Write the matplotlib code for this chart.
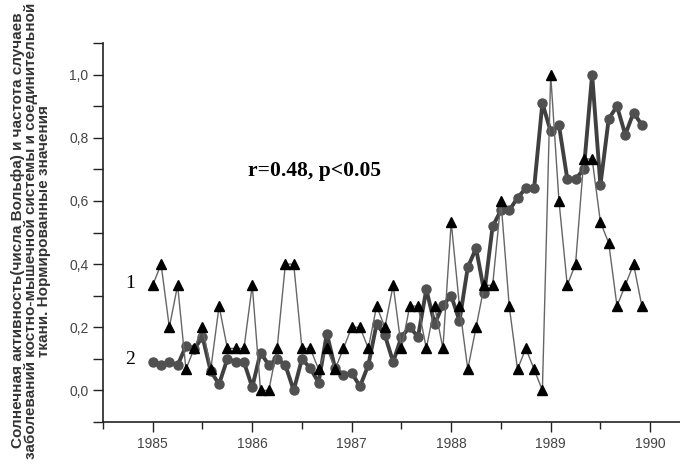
import numpy as np
import matplotlib
matplotlib.use("Agg")
import matplotlib.pyplot as plt
from matplotlib.ticker import MultipleLocator, FuncFormatter

# monthly values, Jan 1985 .. Dec 1989 (normalized)
start_year = 1985
# 1 - incidence of musculoskeletal / connective tissue diseases
incidence = [
    0.333, 0.400, 0.200, 0.333, 0.067, 0.133, 0.200, 0.067, 0.267, 0.133, 0.133, 0.133,
    0.333, 0.000, 0.000, 0.133, 0.400, 0.400, 0.133, 0.133, 0.067, 0.133, 0.067, 0.133,
    0.200, 0.200, 0.133, 0.267, 0.200, 0.333, 0.133, 0.267, 0.267, 0.133, 0.267, 0.133,
    0.533, 0.267, 0.067, 0.200, 0.333, 0.333, 0.600, 0.267, 0.067, 0.133, 0.067, 0.000,
    1.000, 0.600, 0.333, 0.400, 0.733, 0.733, 0.533, 0.467, 0.267, 0.333, 0.400, 0.267,
]
# 2 - solar activity (Wolf numbers)
wolf = [
    0.09, 0.08, 0.09, 0.08, 0.14, 0.13, 0.17, 0.06, 0.02, 0.10, 0.09, 0.09,
    0.01, 0.12, 0.08, 0.10, 0.08, 0.00, 0.10, 0.07, 0.025, 0.18, 0.07, 0.05,
    0.055, 0.013, 0.08, 0.21, 0.175, 0.09, 0.17, 0.20, 0.17, 0.32, 0.21, 0.27,
    0.30, 0.22, 0.39, 0.45, 0.31, 0.52, 0.57, 0.57, 0.61, 0.64, 0.64, 0.91,
    0.82, 0.84, 0.67, 0.67, 0.70, 1.00, 0.65, 0.86, 0.90, 0.81, 0.88, 0.84,
]
year_ticks = [1985, 1986, 1987, 1988, 1989, 1990]

x = start_year + np.arange(len(incidence)) / 12.0

fig = plt.figure(figsize=(6.8, 4.68), dpi=100)
ax = fig.add_axes([0.1515, 0.0983, 0.8485, 0.8097])

# series 2: thick line with circles
ax.plot(x, wolf, '-', color='#404040', lw=2.8, zorder=2)
ax.plot(x, wolf, 'o', color='#505050', markersize=6.5, zorder=3)
# series 1: thin line with triangles
ax.plot(x, incidence, '-', color='#666666', lw=1.0, zorder=4)
ax.plot(x, incidence, '^', color='black', markersize=7.5, zorder=5)

ax.set_xlim(1984.5, 1990.3)
ax.set_ylim(-0.1, 1.1)

ax.set_xticks(year_ticks)
ax.xaxis.set_minor_locator(MultipleLocator(0.5))
ax.yaxis.set_major_locator(MultipleLocator(0.2))
ax.yaxis.set_minor_locator(MultipleLocator(0.1))
ax.yaxis.set_major_formatter(FuncFormatter(lambda v, p: f"{v:.1f}".replace('.', ',')))

for s in ['top', 'right']:
    ax.spines[s].set_visible(False)
for s in ['left', 'bottom']:
    ax.spines[s].set_color('#222222')
    ax.spines[s].set_linewidth(1.2)

ax.tick_params(axis='both', which='major', direction='out', length=7, width=1,
               colors='#222222', labelcolor='#444444', labelsize=10)
ax.tick_params(axis='both', which='minor', direction='out', length=5, width=1, colors='#222222')
ax.tick_params(axis='y', which='minor', length=7)
for lbl in ax.get_xticklabels() + ax.get_yticklabels():
    lbl.set_family('Liberation Sans')

ax.set_ylabel("Солнечная активность(числа Вольфа) и частота случаев\n"
              "заболеваний костно-мышечной системы и соединительной\n"
              "ткани. Нормированные значения",
              fontsize=11, fontweight='bold', family='Liberation Sans',
              color='#333333', linespacing=0.93)
ax.yaxis.set_label_coords(-0.09, 0.505)

ax.text(1986.63, 0.695, "r=0.48, p<0.05", fontsize=15.5, fontweight='bold',
        family='Liberation Serif', ha='center', va='center')
ax.text(1984.77, 0.34, "1", fontsize=14, family='Liberation Serif', ha='center', va='center')
ax.text(1984.77, 0.097, "2", fontsize=14, family='Liberation Serif', ha='center', va='center')

fig.savefig("out.png", dpi=100)
